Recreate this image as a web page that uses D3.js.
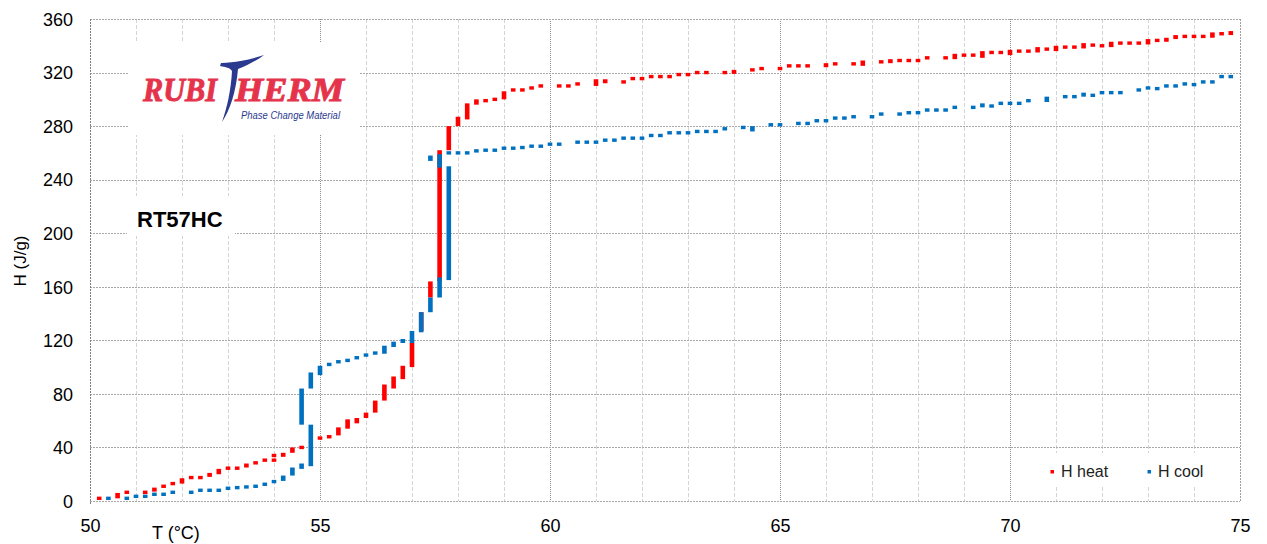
<!DOCTYPE html>
<html><head><meta charset="utf-8">
<script src="https://cdn.jsdelivr.net/npm/d3@7"></script>
<style>body{margin:0;background:#fff}svg{display:block}</style>
</head><body>
<svg id="c" width="1267" height="544"></svg>
<script>
// ---- data (T in °C, H range in J/g for each drawn mark) ----
const heatT  = [50.2,50.6,50.8,51.2,51.4,51.6,51.8,52.0,52.2,52.4,52.6,52.8,53.0,53.2,53.4,53.6,53.8,54.0,54.0,54.2,54.4,54.6,55.0,55.2,55.4,55.6,55.8,56.0,56.2,56.4,56.6,56.8,57.0,57.2,57.4,57.6,57.8,58.0,58.2,58.4,58.6,58.8,59.0,59.2,59.4,59.6,59.8,60.2,60.4,60.6,61.0,61.2,61.6,61.8,62.0,62.2,62.4,62.6,62.8,63.0,63.2,63.4,63.8,64.0,64.4,64.6,65.0,65.2,65.4,65.6,66.0,66.2,66.6,66.8,67.2,67.4,67.6,67.8,68.0,68.2,68.6,68.8,69.0,69.2,69.4,69.6,69.8,70.0,70.2,70.4,70.6,70.8,71.0,71.2,71.4,71.6,71.8,72.0,72.2,72.4,72.6,72.8,73.0,73.2,73.4,73.6,73.8,74.0,74.2,74.4,74.6,74.8];
const heatLo = [1,2,6,6,7,10,12,13,17,17,18,20,24,24,25,28,30,30,33,33,36,39,46,47,49,54,58,62,66,75,84,91,100,127,152,164,262,280,285,296,298,299,300,306,307,308,310,310,310,311,310,312,312,315,315,316,317,317,318,318,319,320,320,319,321,322,322,324,325,325,324,326,326,325,327,327,329,329,329,330,331,330,332,333,331,334,335,333,335,336,335,337,336,338,339,338,340,340,339,341,342,342,341,343,343,345,346,347,347,346,348,348];
const heatHi = [3,6,7,7,10,12,14,17,18,18,21,24,25,25,28,29,31,31,35,36,40,41,48,49,55,61,62,66,75,87,93,101,118,141,164,262,280,287,297,300,300,301,306,308,307,309,310,310,310,312,315,315,314,316,316,318,317,317,319,319,321,320,320,322,323,324,324,326,325,325,327,327,327,329,329,330,329,329,329,332,331,334,334,333,336,336,335,337,337,336,339,338,340,340,339,342,341,340,343,343,342,342,345,345,346,348,348,347,347,350,350,351];

const coolT  = [50.4,50.8,51.0,51.2,51.4,51.6,51.8,52.2,52.4,52.6,52.8,53.0,53.2,53.4,53.6,53.8,54.0,54.2,54.4,54.6,54.6,54.8,54.8,55.0,55.2,55.4,55.6,55.8,56.0,56.2,56.4,56.6,56.8,57.0,57.2,57.4,57.4,57.6,57.6,57.8,57.8,58.0,58.2,58.4,58.6,58.8,59.0,59.2,59.4,59.6,59.8,60.0,60.2,60.6,60.8,61.0,61.2,61.4,61.6,61.8,62.0,62.2,62.4,62.6,62.8,63.0,63.2,63.4,63.6,63.8,64.2,64.4,64.8,65.0,65.4,65.6,65.8,66.0,66.2,66.4,66.6,67.0,67.2,67.6,67.8,68.0,68.2,68.4,68.6,68.8,69.2,69.4,69.6,69.8,70.0,70.2,70.4,70.8,71.2,71.4,71.6,71.8,72.0,72.2,72.4,72.8,73.0,73.2,73.4,73.6,73.8,74.0,74.2,74.4,74.6,74.8];
const coolLo = [1,1,3,3,4,4,6,6,8,8,8,9,10,10,11,12,14,15,19,24,57,26,84,94,101,103,104,106,108,110,110,115,118,118,126,141,254,152,249,165,259,260,260,261,262,262,263,263,264,264,265,266,266,267,268,268,269,269,270,271,271,272,273,274,275,275,275,276,276,277,278,276,280,281,281,282,283,284,285,286,286,287,288,289,289,290,291,292,292,293,294,294,295,296,297,297,298,298,301,302,302,303,304,305,305,306,308,308,309,310,311,311,312,313,316,317];
const coolHi = [3,3,4,4,6,6,7,7,8,8,8,10,10,11,11,13,15,19,25,28,84,57,96,101,103,105,106,108,110,111,116,119,121,127,141,152,258,167,259,250,261,260,260,262,262,262,264,264,264,266,265,267,267,269,268,268,270,270,272,271,271,274,273,276,275,275,277,276,276,279,280,280,282,281,283,282,285,284,287,286,288,287,290,289,291,290,293,292,292,295,294,297,295,298,297,297,300,302,303,302,305,303,306,305,305,308,309,308,311,310,312,311,314,313,318,317];

const xTicks = [50,55,60,65,70,75];
const yTicks = [0,40,80,120,160,200,240,280,320,360];
const seriesNames = ["H heat","H cool"];
const seriesColors = ["#ff0000","#0070c0"];

// ---- layout ----
const svg = d3.select("#c");
const L = 90, R = 1240, T = 19, B = 501;
const x = d3.scaleLinear().domain([50,75]).range([L,R]);
const y = d3.scaleLinear().domain([0,360]).range([B,T]);
const font = "'Liberation Sans', Arial, sans-serif";

const g = svg.append("g");
// minor vertical grid each 1 °C
g.selectAll("line.vmin").data(d3.range(51,75).filter(v=>v%5!==0)).enter().append("line")
  .attr("x1",d=>x(d)+0.5).attr("x2",d=>x(d)+0.5).attr("y1",T).attr("y2",B)
  .attr("stroke","#d4d4d4").attr("stroke-dasharray","4,2");
// major vertical grid
g.selectAll("line.vmaj").data([55,60,65,70]).enter().append("line")
  .attr("x1",d=>x(d)+0.5).attr("x2",d=>x(d)+0.5).attr("y1",T).attr("y2",B)
  .attr("stroke","#8c8c8c").attr("stroke-dasharray","1,1");
// horizontal grid
g.selectAll("line.h").data(yTicks).enter().append("line")
  .attr("x1",L).attr("x2",R).attr("y1",d=>Math.round(y(d))+0.5).attr("y2",d=>Math.round(y(d))+0.5)
  .attr("stroke","#a8a8a8").attr("stroke-dasharray","2,1");
// frame
g.append("line").attr("x1",L+0.5).attr("x2",L+0.5).attr("y1",T).attr("y2",B+4).attr("stroke","#808080").attr("stroke-dasharray","2,1");
g.append("line").attr("x1",R+0.5).attr("x2",R+0.5).attr("y1",T).attr("y2",B).attr("stroke","#a0a0a0").attr("stroke-dasharray","2,1");

// white boxes (logo, label, legend)
svg.append("rect").attr("x",128).attr("y",42).attr("width",232).attr("height",93).attr("fill","#fff");
svg.append("rect").attr("x",127).attr("y",196).attr("width",108).attr("height",40).attr("fill","#fff");
svg.append("rect").attr("x",1036).attr("y",453).attr("width",190).attr("height",32).attr("fill","#fff");

// axes via d3
const yAxis = d3.axisLeft(y).tickValues(yTicks).tickSize(0).tickPadding(0).tickFormat(d3.format("d"));
const ya = svg.append("g").attr("transform","translate(73,0)").call(yAxis);
ya.select(".domain").remove();
ya.selectAll("text").attr("font-family",font).attr("font-size",18).attr("fill","#000").attr("dy","0.35em");
const xAxis = d3.axisBottom(x).tickValues(xTicks).tickSize(0).tickPadding(0).tickFormat(d3.format("d"));
const xa = svg.append("g").attr("transform","translate(0,518)").call(xAxis);
xa.select(".domain").remove();
xa.selectAll("text").attr("font-family",font).attr("font-size",18).attr("fill","#000").attr("dy","0.8em");

// axis titles
svg.append("text").attr("x",152).attr("y",539).attr("font-family",font).attr("font-size",18).text("T (°C)");
svg.append("text").attr("transform","translate(26,261) rotate(-90)").attr("text-anchor","middle")
  .attr("font-family",font).attr("font-size",17).text("H (J/g)");

// data marks
const W = 4.6, MINH = 3.4;
function marks(Ts, Lo, Hi, color){
  const d = Ts.map((t,i)=>({t, lo:Lo[i], hi:Hi[i]}));
  svg.append("g").selectAll("rect").data(d).enter().append("rect")
    .attr("x",v=>x(v.t)-W/2)
    .attr("y",v=>{const h=y(v.lo)-y(v.hi); return h<MINH ? (y(v.lo)+y(v.hi))/2-MINH/2 : y(v.hi);})
    .attr("width",W)
    .attr("height",v=>Math.max(MINH,y(v.lo)-y(v.hi)))
    .attr("fill",color);
}
marks(heatT,heatLo,heatHi,seriesColors[0]);
marks(coolT,coolLo,coolHi,seriesColors[1]);

// legend
const lg = svg.append("g");
[[1052,seriesNames[0],seriesColors[0]],[1149,seriesNames[1],seriesColors[1]]].forEach(([lx,name,c])=>{
  lg.append("rect").attr("x",lx-1.5).attr("y",470).attr("width",3.5).attr("height",3.5).attr("fill",c);
  lg.append("text").attr("x",lx+9).attr("y",477).attr("font-family",font).attr("font-size",16).attr("fill","#222").text(name);
});

// product label
svg.append("text").attr("x",137).attr("y",227).attr("font-family",font).attr("font-weight","bold")
  .attr("font-size",22).attr("fill","#000").text("RT57HC");

// logo
const red = "#e5334b", navy = "#2b3a8f";
const serif = "'Liberation Serif', 'DejaVu Serif', serif";
svg.append("text").attr("x",143).attr("y",101).attr("font-family",serif)
  .attr("font-weight","bold").attr("font-style","italic").attr("font-size",33).attr("fill",red)
  .attr("stroke",red).attr("stroke-width",0.9)
  .attr("textLength",74).attr("lengthAdjust","spacingAndGlyphs").text("RUBI");
svg.append("text").attr("x",235).attr("y",101).attr("font-family",serif)
  .attr("font-weight","bold").attr("font-style","italic").attr("font-size",33).attr("fill",red)
  .attr("stroke",red).attr("stroke-width",0.9)
  .attr("textLength",109).attr("lengthAdjust","spacingAndGlyphs").text("HERM");
svg.append("path").attr("fill",navy)
  .attr("d","M264,55 C252,59 240,62 221,63 L220,66 C226,67 230,68 232,71 C231,90 227,108 222,122 C230,110 236,92 238,69 C246,66 256,61 264,55 Z");
svg.append("text").attr("x",241).attr("y",118.5).attr("font-family",font).attr("font-style","italic")
  .attr("font-size",11).attr("fill",navy).attr("textLength",99).attr("lengthAdjust","spacingAndGlyphs")
  .text("Phase Change Material");
</script>
</body></html>
